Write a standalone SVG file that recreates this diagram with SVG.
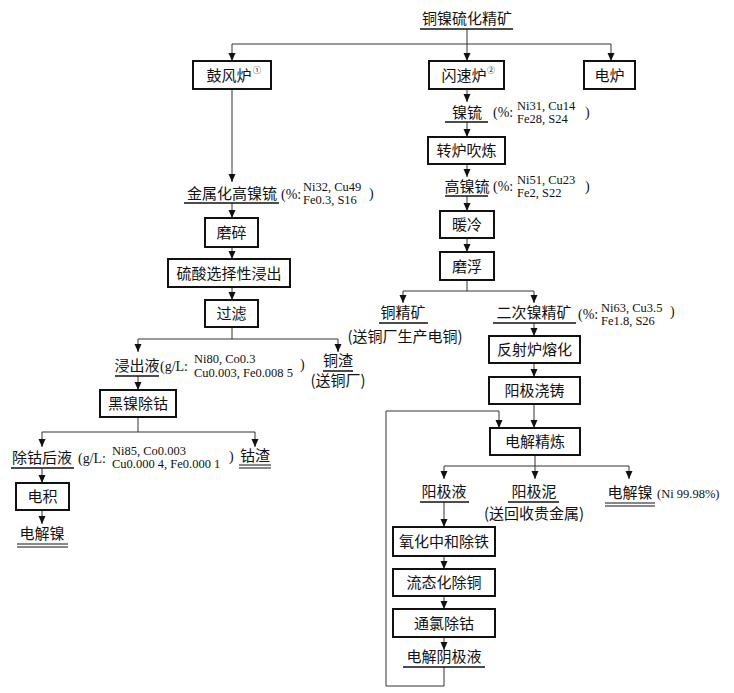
<svg xmlns="http://www.w3.org/2000/svg" width="734" height="693" viewBox="0 0 734 693">
<defs>
<marker id="arr" viewBox="0 0 8 10" refX="8" refY="5" markerWidth="8" markerHeight="10" markerUnits="userSpaceOnUse" orient="auto">
<path d="M0,1.5 L8,5 L0,8.5 Z" fill="#111"/>
</marker>
<style>
.box{fill:#fff;stroke:#111;stroke-width:2}
.t{font-family:"Noto Sans CJK SC","Noto Sans",sans-serif;font-size:15px;fill:#111;text-anchor:middle}
.c{font-family:"Liberation Serif","Noto Sans CJK SC",serif;font-size:12.5px;fill:#111}
.p{font-family:"Liberation Serif","Noto Sans CJK SC",serif;font-size:14px;fill:#111}
.sup{font-family:"Liberation Serif","Noto Sans CJK SC",serif;font-size:8px;fill:#111}
.ln{fill:none;stroke:#333;stroke-width:1}
.ul{stroke:#111;stroke-width:1.5}
.dl{stroke:#111;stroke-width:1}
</style>
</defs>
<rect width="734" height="693" fill="#fff"/>

<g id="connectors">
<path class="ln" d="M467,29 V61" marker-end="url(#arr)"/>
<path class="ln" d="M232,44 H611"/>
<path class="ln" d="M232,44 V61" marker-end="url(#arr)"/>
<path class="ln" d="M611,44 V61" marker-end="url(#arr)"/>
<path class="ln" d="M232,89 V182" marker-end="url(#arr)"/>
<path class="ln" d="M232,203 V218" marker-end="url(#arr)"/>
<path class="ln" d="M232,247 V259" marker-end="url(#arr)"/>
<path class="ln" d="M232,287 V300" marker-end="url(#arr)"/>
<path class="ln" d="M232,327 V339 M138,339 H338"/>
<path class="ln" d="M138,339 V352" marker-end="url(#arr)"/>
<path class="ln" d="M338,339 V352" marker-end="url(#arr)"/>
<path class="ln" d="M138,376 V390" marker-end="url(#arr)"/>
<path class="ln" d="M138,417 V432 M42,432 H255"/>
<path class="ln" d="M42,432 V447" marker-end="url(#arr)"/>
<path class="ln" d="M255,432 V447" marker-end="url(#arr)"/>
<path class="ln" d="M42,468 V483" marker-end="url(#arr)"/>
<path class="ln" d="M42,510 V524" marker-end="url(#arr)"/>
<path class="ln" d="M467,89 V102" marker-end="url(#arr)"/>
<path class="ln" d="M467,122 V137" marker-end="url(#arr)"/>
<path class="ln" d="M467,164 V177" marker-end="url(#arr)"/>
<path class="ln" d="M467,196 V211" marker-end="url(#arr)"/>
<path class="ln" d="M467,238 V252" marker-end="url(#arr)"/>
<path class="ln" d="M467,280 V291 M403,291 H534"/>
<path class="ln" d="M403,291 V303" marker-end="url(#arr)"/>
<path class="ln" d="M534,291 V303" marker-end="url(#arr)"/>
<path class="ln" d="M534,323 V336" marker-end="url(#arr)"/>
<path class="ln" d="M534,363 V377" marker-end="url(#arr)"/>
<path class="ln" d="M534,404 V428" marker-end="url(#arr)"/>
<path class="ln" d="M444,667 V686 H386 V411 H499 V428" marker-end="url(#arr)"/>
<path class="ln" d="M535,455 V466 M444,466 H629"/>
<path class="ln" d="M444,466 V479" marker-end="url(#arr)"/>
<path class="ln" d="M535,466 V479" marker-end="url(#arr)"/>
<path class="ln" d="M629,466 V479" marker-end="url(#arr)"/>
<path class="ln" d="M444,502 V527" marker-end="url(#arr)"/>
<path class="ln" d="M444,556 V569" marker-end="url(#arr)"/>
<path class="ln" d="M444,596 V609" marker-end="url(#arr)"/>
<path class="ln" d="M444,637 V650" marker-end="url(#arr)"/>
</g>

<g id="n-top"><text class="t" x="467" y="24">铜镍硫化精矿</text><line class="ul" x1="420" y1="29" x2="513" y2="29"/></g>

<g id="n-blast"><rect class="box" x="193" y="61" width="78" height="28"/><text class="t" x="229" y="80.5">鼓风炉</text><text class="sup" x="253" y="73">①</text></g>
<g id="n-flash"><rect class="box" x="429" y="61" width="75" height="28"/><text class="t" x="464" y="80.5">闪速炉</text><text class="sup" x="487" y="73">②</text></g>
<g id="n-efurnace"><rect class="box" x="584" y="61" width="51" height="28"/><text class="t" x="609.5" y="80.5">电炉</text></g>

<g id="n-metal-matte"><text class="t" x="232" y="199">金属化高镍锍</text><line class="ul" x1="184" y1="203" x2="279" y2="203"/>
<text class="p" x="281" y="199">(%:</text><text class="c" x="303" y="191">Ni32, Cu49</text><text class="c" x="303" y="204">Fe0.3, S16</text><text class="p" x="369" y="198">)</text></g>
<g id="n-grind"><rect class="box" x="205" y="218" width="53" height="29"/><text class="t" x="231.5" y="238">磨碎</text></g>
<g id="n-leach"><rect class="box" x="168" y="259" width="122" height="28"/><text class="t" x="229" y="278.5">硫酸选择性浸出</text></g>
<g id="n-filter"><rect class="box" x="205" y="300" width="53" height="27"/><text class="t" x="231.5" y="319">过滤</text></g>

<g id="n-leachate"><text class="t" x="137" y="371">浸出液</text><line class="ul" x1="115" y1="376" x2="159" y2="376"/>
<text class="p" x="160" y="371">(g/L:</text><text class="c" x="194" y="363">Ni80, Co0.3</text><text class="c" x="194" y="377">Cu0.003, Fe0.008 5</text><text class="p" x="300" y="369">)</text></g>
<g id="n-cuslag"><text class="t" x="338" y="366">铜渣</text><line class="ul" x1="323" y1="371" x2="353" y2="371"/><text class="t" x="338" y="386">(送铜厂)</text></g>
<g id="n-blackni"><rect class="box" x="100" y="390" width="76" height="27"/><text class="t" x="138" y="409">黑镍除钴</text></g>

<g id="n-decoliq"><text class="t" x="42" y="463">除钴后液</text><line class="ul" x1="11" y1="468" x2="74" y2="468"/>
<text class="p" x="78" y="463">(g/L:</text><text class="c" x="112" y="455">Ni85, Co0.003</text><text class="c" x="112" y="468">Cu0.000 4, Fe0.000 1</text><text class="p" x="229" y="461">)</text></g>
<g id="n-coslag"><text class="t" x="255" y="461">钴渣</text><line class="dl" x1="239" y1="465" x2="271" y2="465"/><line class="dl" x1="239" y1="468" x2="271" y2="468"/></g>
<g id="n-ew"><rect class="box" x="16" y="483" width="53" height="27"/><text class="t" x="42.5" y="502">电积</text></g>
<g id="n-eni-left"><text class="t" x="42" y="539">电解镍</text><line class="dl" x1="17" y1="544" x2="68" y2="544"/><line class="dl" x1="17" y1="547" x2="68" y2="547"/></g>

<g id="n-matte"><text class="t" x="467" y="118">镍锍</text><line class="ul" x1="445" y1="122" x2="488" y2="122"/>
<text class="p" x="493" y="117">(%:</text><text class="c" x="517" y="110">Ni31, Cu14</text><text class="c" x="517" y="123">Fe28, S24</text><text class="p" x="585" y="117">)</text></g>
<g id="n-converter"><rect class="box" x="428" y="137" width="77" height="27"/><text class="t" x="466.5" y="156">转炉吹炼</text></g>
<g id="n-hmatte"><text class="t" x="467" y="192">高镍锍</text><line class="ul" x1="445" y1="196" x2="488" y2="196"/>
<text class="p" x="493" y="191">(%:</text><text class="c" x="517" y="184">Ni51, Cu23</text><text class="c" x="517" y="197">Fe2, S22</text><text class="p" x="585" y="191">)</text></g>
<g id="n-cool"><rect class="box" x="440" y="211" width="54" height="27"/><text class="t" x="467" y="230">暖冷</text></g>
<g id="n-float"><rect class="box" x="440" y="252" width="54" height="28"/><text class="t" x="467" y="271.5">磨浮</text></g>

<g id="n-cuconc"><text class="t" x="403" y="318">铜精矿</text><line class="ul" x1="379" y1="323" x2="428" y2="323"/><text class="t" x="405" y="342">(送铜厂生产电铜)</text></g>
<g id="n-niconc"><text class="t" x="534" y="318">二次镍精矿</text><line class="ul" x1="493" y1="323" x2="576" y2="323"/>
<text class="p" x="578" y="319">(%:</text><text class="c" x="601" y="312">Ni63, Cu3.5</text><text class="c" x="601" y="325">Fe1.8, S26</text><text class="p" x="670" y="316">)</text></g>
<g id="n-reverb"><rect class="box" x="489" y="336" width="91" height="27"/><text class="t" x="534.5" y="355">反射炉熔化</text></g>
<g id="n-anodecast"><rect class="box" x="489" y="377" width="91" height="27"/><text class="t" x="534.5" y="396">阳极浇铸</text></g>
<g id="n-refine"><rect class="box" x="490" y="428" width="90" height="27"/><text class="t" x="535" y="447">电解精炼</text></g>

<g id="n-anolyte"><text class="t" x="444" y="497">阳极液</text><line class="ul" x1="420" y1="502" x2="469" y2="502"/></g>
<g id="n-slime"><text class="t" x="534" y="497">阳极泥</text><line class="ul" x1="508" y1="502" x2="559" y2="502"/><text class="t" x="534" y="519">(送回收贵金属)</text></g>
<g id="n-eni-right"><text class="t" x="630" y="498">电解镍</text><line class="dl" x1="605" y1="503" x2="655" y2="503"/><line class="dl" x1="605" y1="506" x2="655" y2="506"/><text class="c" x="657" y="498">(Ni 99.98%)</text></g>
<g id="n-oxid"><rect class="box" x="393" y="527" width="102" height="29"/><text class="t" x="444" y="547">氧化中和除铁</text></g>
<g id="n-fluid"><rect class="box" x="393" y="569" width="102" height="27"/><text class="t" x="444" y="588">流态化除铜</text></g>
<g id="n-chlor"><rect class="box" x="393" y="609" width="102" height="28"/><text class="t" x="444" y="628.5">通氯除钴</text></g>
<g id="n-catholyte"><text class="t" x="444" y="662">电解阴极液</text><line class="ul" x1="403" y1="667" x2="485" y2="667"/></g>
</svg>
